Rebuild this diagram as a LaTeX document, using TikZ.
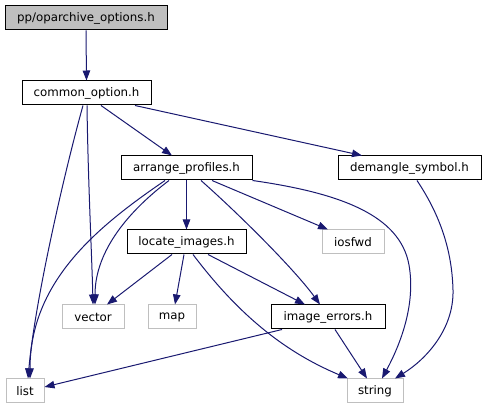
\documentclass[tikz,border=0pt]{standalone}
\usepackage{fontspec}
\setmainfont{DejaVu Sans}
\usetikzlibrary{arrows.meta}
\definecolor{edgeblue}{HTML}{191970}
\definecolor{sysgrey}{HTML}{BFBFBF}
\begin{document}
\begin{tikzpicture}[x=1pt,y=-1pt,
  box/.style={draw=black,line width=1pt,inner sep=0pt,minimum height=24pt,font=\fontsize{11.8}{14}\selectfont},
  sysbox/.style={box,draw=sysgrey},
  edge/.style={color=edgeblue,line width=1pt,-{Triangle[length=10pt,width=7.5pt]}}
]
\useasboundingbox (0,0) rectangle (485,411);
% nodes
\node[box,fill=sysgrey,minimum width=162pt] (top) at (86,18) {pp/oparchive\_options.h};
\node[box,minimum width=129pt] (common) at (86.5,93) {common\_option.h};
\node[box,minimum width=131pt] (arrange) at (186.5,168) {arrange\_profiles.h};
\node[box,minimum width=143pt] (demangle) at (409.5,168) {demangle\_symbol.h};
\node[sysbox,minimum width=62pt] (iosfwd) at (353,242) {iosfwd};
\node[box,minimum width=119pt] (locate) at (186.5,242) {locate\_images.h};
\node[sysbox,minimum width=62pt] (vector) at (93,317) {vector};
\node[sysbox,minimum width=48pt] (map) at (172,317) {map};
\node[box,minimum width=114pt] (imgerr) at (328,317) {image\_errors.h};
\node[sysbox,minimum width=38pt] (list) at (25,391) {list};
\node[sysbox,minimum width=56pt] (string) at (375,391) {string};
% edges
\draw[edge] (top.south) -- (common.north);
\draw[edge] ([xshift=-3.5pt]common.south) .. controls (65,170) and (35,300) .. ([xshift=3pt]list.north);
\draw[edge] ([xshift=0.5pt]common.south) .. controls (88,180) and (92,260) .. (vector.north);
\draw[edge] ([xshift=14.5pt]common.south) -- ([xshift=-14.5pt]arrange.north);
\draw[edge] ([xshift=48.5pt]common.south) -- ([xshift=-47.5pt]demangle.north);
\draw[edge] ([xshift=-21.5pt]arrange.south) .. controls (100,225) and (30,280) .. ([xshift=5pt]list.north);
\draw[edge] ([xshift=-17.5pt]arrange.south) .. controls (130,210) and (95,250) .. ([xshift=2pt]vector.north);
\draw[edge] (arrange.south) -- (locate.north);
\draw[edge] ([xshift=25.5pt]arrange.south) -- ([xshift=-25pt]iosfwd.north);
\draw[edge] ([xshift=14.5pt]arrange.south) .. controls (240,215) and (295,270) .. ([xshift=-8pt]imgerr.north);
\draw[edge] (arrange.south east) .. controls (340,193) and (400,215) .. (409,265) .. controls (416,305) and (400,345) .. ([xshift=7pt]string.north);
\draw[edge] ([xshift=7.5pt]demangle.south) .. controls (440,215) and (452,250) .. (453,290) .. controls (454,330) and (425,360) .. ([xshift=20pt]string.north);
\draw[edge] ([xshift=-14.5pt]locate.south) -- ([xshift=14pt]vector.north);
\draw[edge] ([xshift=-2.5pt]locate.south) -- ([xshift=3pt]map.north);
\draw[edge] ([xshift=6.5pt]locate.south) .. controls (235,310) and (280,350) .. ([xshift=-27pt]string.north);
\draw[edge] ([xshift=21.5pt]locate.south) -- ([xshift=-23pt]imgerr.north);
\draw[edge] ([xshift=-46pt]imgerr.south) -- ([yshift=4pt]list.east);
\draw[edge] ([xshift=7pt]imgerr.south) -- ([xshift=-8pt]string.north);
\end{tikzpicture}
\end{document}
